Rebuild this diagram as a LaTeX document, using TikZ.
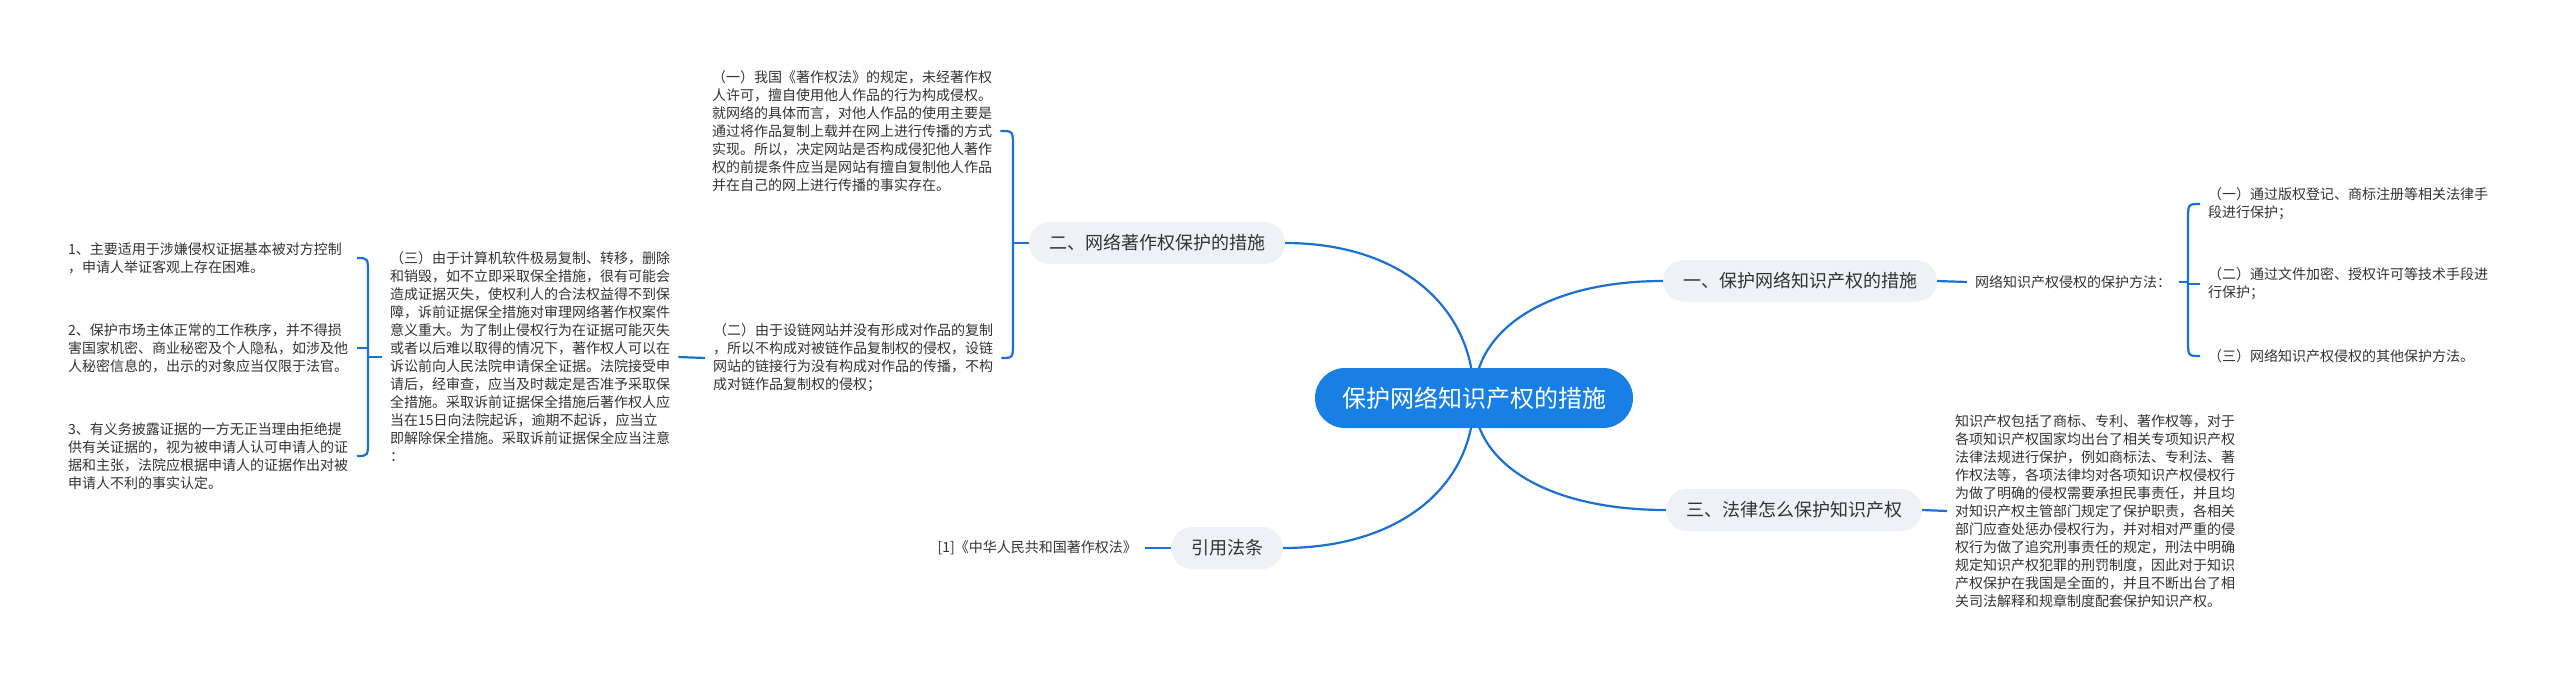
\documentclass[tikz,border=0pt]{standalone}
\usepackage{fontspec}
\setmainfont{Noto Sans CJK SC}
\usetikzlibrary{calc}
\pgfdeclarelayer{bg}
\pgfsetlayers{bg,main}
\definecolor{lineblue}{RGB}{28,112,210}
\definecolor{rootblue}{RGB}{24,128,229}
\definecolor{pillgray}{RGB}{238,241,246}
\definecolor{txtgray}{RGB}{51,51,51}
\begin{document}
\begin{tikzpicture}[x=1pt,y=-1pt,
  conn/.style={draw=lineblue, line width=2.2pt},
  rootnode/.style={fill=rootblue, text=white, rounded corners=30pt, minimum height=60pt, inner xsep=27pt, inner ysep=0pt, font=\fontsize{24}{28}\selectfont},
  pill/.style={fill=pillgray, text=txtgray, rounded corners=21pt, minimum height=42pt, inner xsep=20pt, inner ysep=0pt, font=\fontsize{18}{22}\selectfont},
  leaf/.style={text=txtgray, align=left, inner xsep=8pt, inner ysep=0pt, font=\fontsize{14}{18}\selectfont, anchor=west},
]
\useasboundingbox (0,0) rectangle (2560,678);
\begin{pgfonlayer}{bg}
\fill[white] (0,0) rectangle (2560,678);
\end{pgfonlayer}

\node[rootnode] (root) at (1474,398) {保护网络知识产权的措施};
\node[pill] (b2) at (1157,243) {二、网络著作权保护的措施};
\node[pill] (b1) at (1800,281) {一、保护网络知识产权的措施};
\node[pill] (b3) at (1794,510) {三、法律怎么保护知识产权};
\node[pill] (b4) at (1227,548) {引用法条};

\node[leaf] (t21) at (704,131) {（一）我国《著作权法》的规定，未经著作权\\人许可，擅自使用他人作品的行为构成侵权。\\就网络的具体而言，对他人作品的使用主要是\\通过将作品复制上载并在网上进行传播的方式\\实现。所以，决定网站是否构成侵犯他人著作\\权的前提条件应当是网站有擅自复制他人作品\\并在自己的网上进行传播的事实存在。};
\node[leaf] (t22) at (705,358) {（二）由于设链网站并没有形成对作品的复制\\，所以不构成对被链作品复制权的侵权，设链\\网站的链接行为没有构成对作品的传播，不构\\成对链作品复制权的侵权；};
\node[leaf] (t23) at (382,357) {（三）由于计算机软件极易复制、转移，删除\\和销毁，如不立即采取保全措施，很有可能会\\造成证据灭失，使权利人的合法权益得不到保\\障，诉前证据保全措施对审理网络著作权案件\\意义重大。为了制止侵权行为在证据可能灭失\\或者以后难以取得的情况下，著作权人可以在\\诉讼前向人民法院申请保全证据。法院接受申\\请后，经审查，应当及时裁定是否准予采取保\\全措施。采取诉前证据保全措施后著作权人应\\当在15日向法院起诉，逾期不起诉，应当立\\即解除保全措施。采取诉前证据保全应当注意\\：};
\node[leaf] (i1) at (60,258) {1、主要适用于涉嫌侵权证据基本被对方控制\\，申请人举证客观上存在困难。};
\node[leaf] (i2) at (60,348) {2、保护市场主体正常的工作秩序，并不得损\\害国家机密、商业秘密及个人隐私，如涉及他\\人秘密信息的，出示的对象应当仅限于法官。};
\node[leaf] (i3) at (60,456) {3、有义务披露证据的一方无正当理由拒绝提\\供有关证据的，视为被申请人认可申请人的证\\据和主张，法院应根据申请人的证据作出对被\\申请人不利的事实认定。};

\node[leaf] (m1) at (1967,282) {网络知识产权侵权的保护方法：};
\node[leaf] (r1) at (2200,204) {（一）通过版权登记、商标注册等相关法律手\\段进行保护；};
\node[leaf] (r2) at (2200,284) {（二）通过文件加密、授权许可等技术手段进\\行保护；};
\node[leaf] (r3) at (2200,356) {（三）网络知识产权侵权的其他保护方法。};
\node[leaf] (t3) at (1947,511) {知识产权包括了商标、专利、著作权等，对于\\各项知识产权国家均出台了相关专项知识产权\\法律法规进行保护，例如商标法、专利法、著\\作权法等，各项法律均对各项知识产权侵权行\\为做了明确的侵权需要承担民事责任，并且均\\对知识产权主管部门规定了保护职责，各相关\\部门应查处惩办侵权行为，并对相对严重的侵\\权行为做了追究刑事责任的规定，刑法中明确\\规定知识产权犯罪的刑罚制度，因此对于知识\\产权保护在我国是全面的，并且不断出台了相\\关司法解释和规章制度配套保护知识产权。};
\node[leaf, anchor=east] (law) at (1145,548) {[1]《中华人民共和国著作权法》};

\coordinate (v2) at (1013,0);
\coordinate (vL) at (368,0);
\coordinate (v1) at (2188,0);

\begin{pgfonlayer}{bg}
% main curves from the root
\draw[conn] (root.center) .. controls ($(root.center)!0.6!(root.center |- b2.east)$) and ($(b2.east)!0.6!(root.center |- b2.east)$) .. (b2.east);
\draw[conn] (root.center) .. controls ($(root.center)!0.6!(root.center |- b1.west)$) and ($(b1.west)!0.6!(root.center |- b1.west)$) .. (b1.west);
\draw[conn] (root.center) .. controls ($(root.center)!0.6!(root.center |- b3.west)$) and ($(b3.west)!0.6!(root.center |- b3.west)$) .. (b3.west);
\draw[conn] (root.center) .. controls ($(root.center)!0.6!(root.center |- b4.east)$) and ($(b4.east)!0.6!(root.center |- b4.east)$) .. (b4.east);
% bracket of branch 2
\draw[conn] (t21.east) .. controls (v2 |- t21.east) .. ($(v2 |- t21.east)+(0,16)$) -- ($(v2 |- t22.east)+(0,-16)$) .. controls (v2 |- t22.east) .. (t22.east);
\draw[conn] (v2 |- b2.west) -- (b2.west);
\draw[conn] (t23.east) -- (t22.west);
% bracket of item list
\draw[conn] ($(vL |- i1.east)+(-11,0)$) .. controls (vL |- i1.east) .. ($(vL |- i1.east)+(0,16)$) -- ($(vL |- i3.east)+(0,-16)$) .. controls (vL |- i3.east) .. ($(vL |- i3.east)+(-11,0)$);
\draw[conn] ($(vL |- i2.east)+(-11,0)$) -- (vL |- i2.east);
\draw[conn] (vL |- t23.west) -- (t23.west);
% branch 1
\draw[conn] (b1.east) -- (m1.west);
\draw[conn] (r1.west) .. controls (v1 |- r1.west) .. ($(v1 |- r1.west)+(0,16)$) -- ($(v1 |- r3.west)+(0,-16)$) .. controls (v1 |- r3.west) .. (r3.west);
\draw[conn] (m1.east) -- (v1 |- m1.east);
\draw[conn] (v1 |- r2.west) -- (r2.west);
% branch 3 and 4
\draw[conn] (b3.east) -- (t3.west);
\draw[conn] (law.east) -- (b4.west);
\end{pgfonlayer}
\end{tikzpicture}
\end{document}
